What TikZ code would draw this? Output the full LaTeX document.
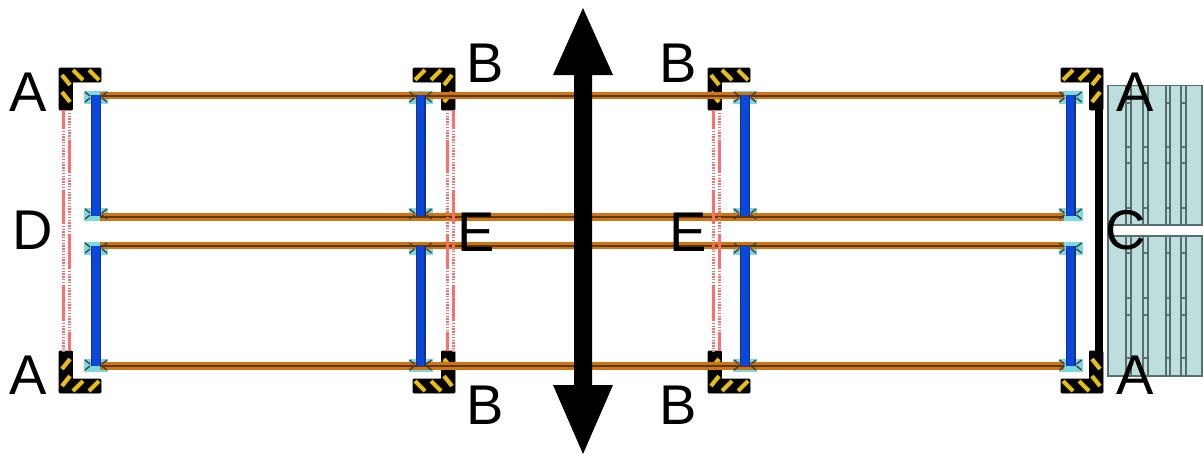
\documentclass[tikz,border=0pt]{standalone}
\usepackage{fontspec}
\setmainfont{Liberation Sans}
\usepackage{xcolor}
\definecolor{hazard}{HTML}{E8BE10}
\definecolor{railorange}{HTML}{CF7410}
\definecolor{raildark}{HTML}{5A3A14}
\definecolor{postblue}{HTML}{0A46E0}
\definecolor{postdark}{HTML}{1A3470}
\definecolor{clipcyan}{HTML}{7ADAE0}
\definecolor{beamred}{HTML}{FF6E6E}
\definecolor{panelfill}{HTML}{BEDEDD}
\definecolor{paneledge}{HTML}{566F6F}
\tikzset{
  guardbody/.style={fill=black, draw=black, line width=0.6pt, rounded corners=0.8pt},
  stripe/.style={draw=hazard, line width=4.2pt},
  beamsolid/.style={draw=beamred, line width=3pt},
  beamdot/.style={draw=beamred, line width=3pt, dash pattern=on 1.4pt off 1.4pt},
  railbase/.style={draw=railorange, line width=7.5pt},
  railcore/.style={draw=raildark, line width=2pt},
  postbase/.style={draw=postdark, line width=10pt},
  postcore/.style={draw=postblue, line width=7.5pt},
  clipbox/.style={fill=clipcyan, draw=none},
  clipmark/.style={draw=black!75, line width=1.4pt},
  panelbody/.style={fill=panelfill, draw=paneledge, line width=1.8pt},
  slat/.style={draw=paneledge, line width=2pt},
  lbl/.style={text=black, font=\fontsize{56}{60}\selectfont, inner sep=0pt}
}
\newcommand{\guardcorner}[4]{%
  \begin{scope}[shift={(#1,#2)},xscale=#3,yscale=#4]
    \draw[guardbody] (0,0) -- (42,0) -- (42,14) -- (13.5,14) -- (13.5,42) -- (0,42) -- cycle;
    \begin{scope}
      \clip (0,0) -- (42,0) -- (42,14) -- (13.5,14) -- (13.5,42) -- (0,42) -- cycle;
      \draw[stripe] (14,2) -- (24,12);
      \draw[stripe] (30,2) -- (40,12);
      \draw[stripe] (3,7) -- (11,17);
      \draw[stripe] (3,24) -- (11,34);
    \end{scope}
  \end{scope}}
\newcommand{\beampair}[2]{%
  \foreach \a/\b in {110/128,190/223,286/320} {\draw[beamsolid] (#1,\a) -- (#1,\b);}
  \foreach \a/\b in {128/190,223/286,320/351} {\draw[beamdot] (#1,\a) -- (#1,\b);}
  \foreach \a/\b in {140/172,235/268,332/351} {\draw[beamsolid] (#2,\a) -- (#2,\b);}
  \foreach \a/\b in {110/140,172/235,268/332} {\draw[beamdot] (#2,\a) -- (#2,\b);}}
\newcommand{\postclip}[2]{%
  \fill[clipbox] (#1-12,#2-6.5) rectangle (#1+12,#2+6.5);}
\newcommand{\clipticks}[2]{%
  \draw[clipmark] (#1-11,#2-5) -- (#1-6,#2-1) (#1+11,#2-5) -- (#1+6,#2-1)
    (#1-11,#2+5) -- (#1-6,#2+1) (#1+11,#2+5) -- (#1+6,#2+1);}
\begin{document}
\begin{tikzpicture}[x=1pt,y=-1pt]
  \useasboundingbox (0,0) rectangle (1203,455);

  % panel stack on the right
  \draw[panelbody] (1108,85.5) rectangle (1202,376);
  \foreach \x in {1125.5,1131,1143,1148,1165.5,1170,1181,1186} {
    \draw[slat] (\x,85.5) -- (\x,225);
    \draw[slat] (\x,236) -- (\x,376);
  }
  \foreach \x in {1128.2,1145.5,1167.7,1183.5} {
    \foreach \y in {103,147,163,208,253,298,315,358} {
      \draw[slat] (\x-3,\y) -- (\x+3,\y);
    }
  }
  \fill[white] (1113,226) rectangle (1204,235);
  \draw[paneledge, line width=1.4pt] (1203,225) -- (1113,225) (1113,236) -- (1203,236);

  % guards and end bar
  \fill[black] (1095,105) rectangle (1103,356);
  \guardcorner{59}{68}{1}{1}
  \guardcorner{455}{68}{-1}{1}
  \guardcorner{708}{68}{1}{1}
  \guardcorner{1103}{68}{-1}{1}
  \guardcorner{59}{393}{1}{-1}
  \guardcorner{455}{393}{-1}{-1}
  \guardcorner{708}{393}{1}{-1}
  \guardcorner{1103}{393}{-1}{-1}

  % clips, rails, posts
  \foreach \x in {96,420.5,745,1070.5} {
    \foreach \y in {97,214,248,365} {\postclip{\x}{\y}}
  }
  \foreach \y in {95.5,217,245.5,366} {
    \draw[railbase] (100,\y) -- (1064,\y);
    \draw[railcore] (100,\y) -- (1064,\y);
  }
  \foreach \x in {96,420.5,745,1070.5} {
    \draw[postbase] (\x,95) -- (\x,216);
    \draw[postbase] (\x,246) -- (\x,366);
    \draw[postcore] (\x,95) -- (\x,216);
    \draw[postcore] (\x,246) -- (\x,366);
    \foreach \y in {97,214,248,365} {\clipticks{\x}{\y}}
  }

  % light curtains
  \beampair{63}{69}
  \beampair{453}{447}
  \beampair{713}{719}

  % double arrow
  \fill[black] (583,8) -- (613,75) -- (592,75) -- (592,385) -- (613,385) -- (583,454)
    -- (553,385) -- (574,385) -- (574,75) -- (553,75) -- cycle;

  \node[lbl] (aTL) at (28,92) {A};
  \node[lbl] (aBL) at (28,375) {A};
  \node[lbl] (aTR) at (1135,92) {A};
  \node[lbl] (aBR) at (1135,375) {A};
  \node[lbl] (b1) at (485,63) {B};
  \node[lbl] (b2) at (678,63) {B};
  \node[lbl] (b3) at (485,405) {B};
  \node[lbl] (b4) at (678,405) {B};
  \node[lbl] (c) at (1126,230) {C};
  \node[lbl] (d) at (33,230) {D};
  \node[lbl] (e1) at (476,232) {E};
  \node[lbl] (e2) at (688,232) {E};
\end{tikzpicture}
\end{document}
